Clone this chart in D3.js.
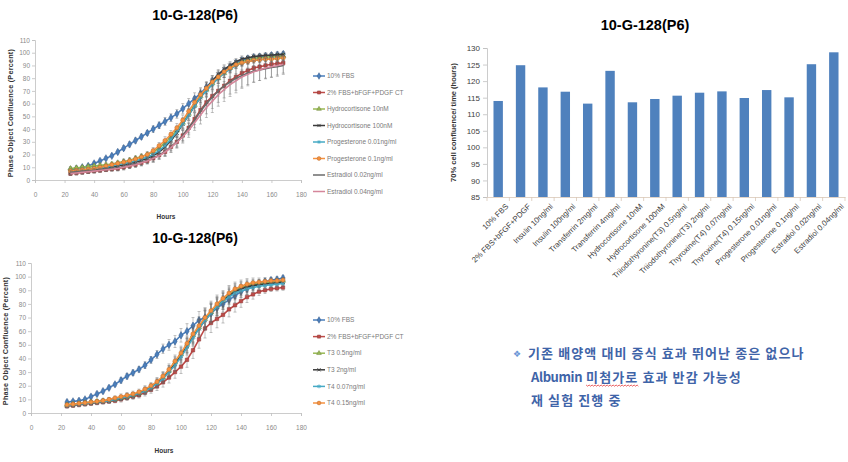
<!DOCTYPE html>
<html><head><meta charset="utf-8">
<script src="https://cdn.jsdelivr.net/npm/d3@7"></script>
<style>
html,body{margin:0;padding:0;background:#fff;}
svg{display:block;}
</style></head>
<body>
<svg id="c" width="848" height="462"></svg>
<script>
// ---------------- DATA ----------------
const chartTitle = "10-G-128(P6)";
const hours = [24,28,32,36,40,44,48,52,56,60,64,68,72,76,80,84,88,92,96,100,104,108,112,116,120,124,128,132,136,140,144,148,152,156,160,164,168];
const xTicks = [0,20,40,60,80,100,120,140,160,180];
const yTicksLine = [0,10,20,30,40,50,60,70,80,90,100,110];

// top line chart
const topNames = ["10% FBS","2% FBS+bFGF+PDGF CT","Hydrocortisone 10nM","Hydrocortisone 100nM","Progesterone 0.01ng/ml","Progesterone 0.1ng/ml","Estradiol 0.02ng/ml","Estradiol 0.04ng/ml"];
const topFbs10   = [8,9,10,11,13,15,17,19,22,25,28,31,34,37,40,43,46,49,52,56,60,64,68,73,78,82,86,89,92,94,95.5,96.5,97,97.5,98,98.5,99];
const topCt2     = [5,5.5,6,6.5,7,7.5,8,8.5,9,10,11,12,13.5,15,17,19.5,22,26,30,35,41,48,55,61,66,70,74,78,81,84,86,88,89,90,91,91.5,92];
const topHc10    = [9,9.5,10,10.5,11,11.5,12,12.5,13.5,14.5,15.5,17,18.5,20,22,25,29,34,39,45,52,59,66,71,76,80,84,88,91,93,94.5,95.5,96,96.5,97,97,97.5];
const topHc100   = [6,6.5,7,7.5,8,8.5,9,10,11,12,13,14,15.5,17,19,22,26,31,37,44,51,58,65,72,78,83,87,90,93,95,96,97,97.5,98,98,98.5,98.5];
const topProg001 = [7,7.5,8,8.5,9,9.5,10,11,12,13,14,15,16.5,18,20,23,27,32,38,44,51,58,65,70,75,80,84,87,90,92,93,94,94.5,95,95.5,95.5,96];
const topProg01  = [7,7.5,8,8.5,9,10,11,12,13,14,15,16.5,18,20,23,27,31,36,41,47,54,61,67,72,77,81,85,88,90.5,92,93,94,94.5,95,95,95.5,96];
const topEstr002 = [6,6.5,7,7,7.5,8,8.5,9,9.5,10.5,11.5,12.5,14,15.5,17,19.5,22.5,26,30,35,41,47,54,60,65,70,74,77,80,82,84,85.5,86.5,87.5,88.5,89,90];
const topEstr004 = [5,5.5,6,6.5,7,7.5,8,8.5,9,10,11,12,13.5,15,17,19,22,25.5,29.5,34,39,45,51,57,62,67,71,75,78,81,83,85,86.5,88,89,90,91];
const topErr     = [1.5,1.5,1.5,1.5,1.5,1.5,1.5,1.5,1.5,2,2,2,2,2,2.5,2.5,3,3,3.5,4,4,4.5,4.5,4.5,4,4,3.5,3,2.5,2.5,2,2,2,2,2,2,2];
const topErrEstr = [1.5,1.5,1.5,1.5,1.5,1.5,1.5,1.5,2,2,2,2,2.5,2.5,3,3,3.5,4,4.5,5,5.5,6,7,8,9,9,9.5,9.5,9.5,9,9,8.5,8.5,8,8,7.5,7];

// bottom line chart
const botNames = ["10% FBS","2% FBS+bFGF+PDGF CT","T3 0.5ng/ml","T3 2ng/ml","T4 0.07ng/ml","T4 0.15ng/ml"];
const botFbs10 = [8,8.5,9,10,12,14,16,18.5,21,24,27,29.5,32,35,39,43,47,50,52.5,57,60,64,68,70,73,77,80,83,86,89,91,93,95,96.5,97.5,98,99];
const botCt2   = [5,5.5,6,6.5,7,7.5,8,8.5,9,10,11,12,13,15,17,19.5,22.5,26,30,34,39,46,54,62,66,69,72,76,79,82,85,87,89,90,91,91.5,92];
const botT3a   = [6,6.5,7,7.5,8,8.5,9,9.5,10,11,12,13,14.5,16.5,19,22,26,31,37,43,50,57,63,69,74,79,83,87,90,92,93.5,94.5,95,95.5,96,96.5,97];
const botT3b   = [5.5,6,6.5,7,7.5,8,8.5,9,10,11,12,13,14.5,16.5,19,22,26,31,36,42,49,56,62,68,73,78,82,86,89,91,92.5,93.5,94,94.5,95,95.5,96];
const botT4a   = [5.5,6,6.5,7,7.5,8,8.5,9,10,11,12,13,14.5,16,18.5,21.5,25,30,35,41,48,55,62,68,73,78,82,85,88,89.5,91,92,93,93.5,94,94.5,95];
const botT4b   = [6,6.5,7,7.5,8,8.5,9,10,11,12,13,14,15.5,17.5,20,23,27,32,38,44,51,58,64,70,75,80,84,88,91,93,94.5,95.5,96,96.5,97,97,97.5];
const botErr   = [1.5,1.5,1.5,1.5,1.5,1.5,1.5,1.5,1.5,2,2,2,2,2.5,2.5,3,3.5,4,4.5,5,5.5,6,6.5,7,7,6.5,6,5.5,5,4.5,4,3.5,3,2.5,2,2,2];

// bar chart
const barCategories = ["10% FBS","2% FBS+bFGF+PDGF","Insulin 10ng/ml","Insulin 100ng/ml","Transferrin 2mg/ml","Transferrin 4mg/ml","Hydrocortisone 10nM","Hydrocortisone 100nM","Triiodothyronine(T3) 0.5ng/ml","Triiodothyronine(T3) 2ng/ml","Thyroxine(T4) 0.07ng/ml","Thyroxine(T4) 0.15ng/ml","Progesterone 0.01ng/ml","Progesterone 0.1ng/ml","Estradiol 0.02ng/ml","Estradiol 0.04ng/ml"];
const barValues = [114,124.8,118.1,116.8,113.2,123.1,113.6,114.6,115.6,116.5,116.9,114.9,117.3,115.1,125.1,128.7];
const barYTicks = [85,90,95,100,105,110,115,120,125,130];
const barYLabel = "70% cell confluence/ time (hours)";

const noteLine1 = "기존 배양액 대비 증식 효과 뛰어난 종은 없으나";
const noteLine2a = "Albumin";
const noteLine2b = "미첨가로";
const noteLine2c = " 효과 반감 가능성";
const noteLine3 = "재 실험 진행 중";

// ---------------- DRAW ----------------
const svg = d3.select("#c");
const narrow = "'Liberation Sans Narrow','Liberation Sans',Arial,sans-serif";
const sans = "'Liberation Sans',Arial,sans-serif";

const symX = d3.symbolTimes || d3.symbolCross;
const symStar = d3.symbolAsterisk || d3.symbolStar;
const styles = [
  {color:"#4a7ebb", stroke:"#385d8a", sym:d3.symbolDiamond, size:16, fill:true},
  {color:"#be4b48", stroke:"#8c3836", sym:d3.symbolSquare, size:12, fill:true},
  {color:"#98b954", stroke:"#71893f", sym:d3.symbolTriangle, size:12, fill:true},
  {color:"#3b3b3b", stroke:"#3b3b3b", sym:symX, size:10, fill:false},
  {color:"#46aac5", stroke:"#46aac5", sym:symStar, size:12, fill:false},
  {color:"#f69240", stroke:"#b66d31", sym:d3.symbolCircle, size:14, fill:true},
  {color:"#6b6b6b", stroke:"#6b6b6b", sym:null},
  {color:"#d5869b", stroke:"#d5869b", sym:null}
];

function lineChart(cfg){
  const g = svg.append("g");
  const x = d3.scaleLinear().domain([0,180]).range([cfg.x0,cfg.x1]);
  const y = d3.scaleLinear().domain([0,110]).range([cfg.y0,cfg.y1]);
  g.append("text").attr("x",cfg.titleX).attr("y",cfg.titleY).attr("text-anchor","middle")
    .attr("font-family",narrow).attr("font-weight","bold").attr("font-size",14).attr("fill","#000").text(chartTitle);
  const ax = g.append("g").attr("transform",`translate(0,${cfg.y0})`)
    .call(d3.axisBottom(x).tickValues(xTicks).tickSize(3).tickPadding(9));
  const ay = g.append("g").attr("transform",`translate(${cfg.x0},0)`)
    .call(d3.axisLeft(y).tickValues(yTicksLine).tickSize(3).tickPadding(2));
  [ax,ay].forEach(a=>{
    a.selectAll("path,line").attr("stroke","#bfbfbf").attr("stroke-width",0.8);
    a.selectAll("text").attr("font-family",narrow).attr("font-size",6.5).attr("fill","#8a8a8a");
  });
  g.append("text").attr("x",(cfg.x0+cfg.x1)/2 - 2).attr("y",cfg.hoursY).attr("text-anchor","middle")
    .attr("font-family",sans).attr("font-weight","bold").attr("font-size",6.5).attr("fill","#333").text("Hours");
  g.append("text").attr("transform",`translate(${cfg.yTitleX},${(cfg.y0+cfg.y1)/2+3}) rotate(-90)`).attr("text-anchor","middle")
    .attr("font-family",sans).attr("font-weight","bold").attr("font-size",7.3).attr("fill","#333").attr("letter-spacing",0.2)
    .text("Phase Object Confluence (Percent)");
  const line = d3.line().x((d,i)=>x(hours[i])).y(d=>y(d));
  cfg.series.forEach((s,si)=>{
    const st = styles[si];
    const sg = g.append("g");
    sg.selectAll("g.err").data(s.values).join("g").each(function(v,i){
      const e = s.err[i], cx = x(hours[i]);
      const eg = d3.select(this);
      eg.append("line").attr("x1",cx).attr("x2",cx).attr("y1",y(v-e)).attr("y2",y(v+e));
      eg.append("line").attr("x1",cx-1.5).attr("x2",cx+1.5).attr("y1",y(v+e)).attr("y2",y(v+e));
      eg.append("line").attr("x1",cx-1.5).attr("x2",cx+1.5).attr("y1",y(v-e)).attr("y2",y(v-e));
    }).attr("stroke","#666").attr("stroke-width",0.5).attr("opacity",0.8);
    sg.append("path").datum(s.values).attr("d",line).attr("fill","none").attr("stroke",st.color).attr("stroke-width",1.6);
    if(st.sym){
      const sym = d3.symbol().type(st.sym).size(st.size);
      sg.selectAll("path.m").data(s.values).join("path").attr("class","m")
        .attr("transform",(d,i)=>`translate(${x(hours[i])},${y(d)})`).attr("d",sym)
        .attr("fill",st.fill?st.color:"none").attr("stroke",st.stroke).attr("stroke-width",st.fill?0.5:0.9);
    }
  });
  const lg = g.append("g");
  cfg.names.forEach((n,i)=>{
    const st = styles[i], ly = cfg.legY + i*cfg.legStep;
    lg.append("line").attr("x1",313).attr("x2",325).attr("y1",ly).attr("y2",ly).attr("stroke",st.color).attr("stroke-width",1.5);
    if(st.sym){
      lg.append("path").attr("transform",`translate(319,${ly})`).attr("d",d3.symbol().type(st.sym).size(st.size*0.8)())
        .attr("fill",st.fill?st.color:"none").attr("stroke",st.stroke).attr("stroke-width",st.fill?0.5:0.9);
    }
    lg.append("text").attr("x",327).attr("y",ly).attr("dy","0.35em").attr("font-family",narrow)
      .attr("font-size",6.5).attr("fill","#7a7a7a").text(n);
  });
}

lineChart({x0:35,x1:301,y0:180,y1:40,titleX:195,titleY:20,hoursY:219,yTitleX:13,legY:76,legStep:16.5,
  names:topNames,
  series:[
    {values:topFbs10,err:topErr},{values:topCt2,err:topErr},{values:topHc10,err:topErr},{values:topHc100,err:topErr},
    {values:topProg001,err:topErr},{values:topProg01,err:topErr},{values:topEstr002,err:topErrEstr},{values:topEstr004,err:topErrEstr}
  ]});

lineChart({x0:31,x1:301,y0:413,y1:263,titleX:195,titleY:243,hoursY:453,yTitleX:8,legY:320,legStep:16.6,
  names:botNames,
  series:[
    {values:botFbs10,err:botErr},{values:botCt2,err:botErr},{values:botT3a,err:botErr},{values:botT3b,err:botErr},
    {values:botT4a,err:botErr},{values:botT4b,err:botErr}
  ]});

// ---- bar chart ----
(function(){
  const g = svg.append("g");
  const x = d3.scaleBand().domain(barCategories).range([487,845]).paddingInner(0.58).paddingOuter(0.29);
  const y = d3.scaleLinear().domain([85,130]).range([197,48]);
  g.append("text").attr("x",645).attr("y",30).attr("text-anchor","middle").attr("font-family",sans)
    .attr("font-weight","bold").attr("font-size",14.5).attr("fill","#000").text(chartTitle);
  g.selectAll("rect").data(barValues).join("rect")
    .attr("x",(d,i)=>x(barCategories[i])).attr("width",x.bandwidth())
    .attr("y",d=>y(d)).attr("height",d=>y(85)-y(d)).attr("fill","#4f81bd");
  const ay = g.append("g").attr("transform","translate(487,0)").call(d3.axisLeft(y).tickValues(barYTicks).tickSize(4).tickPadding(3));
  ay.selectAll("path,line").attr("stroke","#bfbfbf").attr("stroke-width",0.8);
  ay.selectAll("text").attr("font-family",sans).attr("font-size",8).attr("fill","#404040");
  const ax = g.append("g").attr("transform","translate(0,197)").call(d3.axisBottom(x).tickSize(0).tickPadding(0));
  ax.select("path").attr("stroke","#d9c8b8").attr("stroke-width",0.8);
  const step = x.step();
  g.selectAll("line.bt").data(d3.range(barCategories.length+1)).join("line").attr("class","bt")
    .attr("x1",i=>487+i*step).attr("x2",i=>487+i*step).attr("y1",197).attr("y2",201)
    .attr("stroke","#d9c8b8").attr("stroke-width",0.8);
  ax.selectAll("text").attr("font-family",sans).attr("font-size",7.8).attr("fill","#404040")
    .attr("text-anchor","end").attr("dy","0.35em")
    .attr("transform",d=>`translate(${x.bandwidth()/2+4},8) rotate(-45)`).attr("x",0).attr("y",0);
  g.append("text").attr("transform",`translate(456,${(48+197)/2}) rotate(-90)`).attr("text-anchor","middle")
    .attr("font-family",sans).attr("font-weight","bold").attr("font-size",7.5).attr("fill","#333").text(barYLabel);
})();

// ---- Korean note ----
(function(){
  const g = svg.append("g");
  const fam = "'Noto Sans CJK KR',sans-serif";
  const col = "#3f64a8";
  g.append("text").attr("x",513).attr("y",357).attr("font-family","'DejaVu Sans',sans-serif").attr("font-size",9)
    .attr("fill","#6a95d6").text("❖");
  const base = (x,y)=>g.append("text").attr("x",x).attr("y",y).attr("font-family",fam).attr("font-weight","bold")
      .attr("font-size",13).attr("fill",col);
  base(528,358).attr("letter-spacing",1.1).text(noteLine1);
  const t2 = base(531,382);
  t2.append("tspan").attr("letter-spacing",-0.4).text(noteLine2a);
  const tsp = t2.append("tspan").attr("dx",4).attr("letter-spacing",1.1).text(noteLine2b);
  t2.append("tspan").attr("letter-spacing",1.1).text(noteLine2c);
  base(531,405).attr("letter-spacing",1.1).text(noteLine3);
  try{
    const node = t2.node();
    const start = noteLine2a.length;
    const a = node.getStartPositionOfChar(start).x;
    const b = node.getEndPositionOfChar(start+noteLine2b.length-1).x;
    const yy = 385;
    let p = `M${a},${yy}`;
    for(let xx=a, k=0; xx<b; xx+=1.5, k++){ p += ` L${Math.min(xx+1.5,b)},${yy+(k%2?0:1.2)}`; }
    g.append("path").attr("d",p).attr("fill","none").attr("stroke","#e02020").attr("stroke-width",0.7);
  }catch(e){}
})();
</script>
</body></html>
